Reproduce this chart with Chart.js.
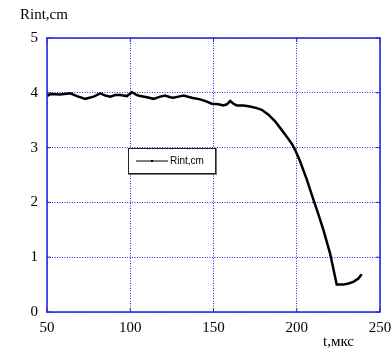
<!DOCTYPE html>
<html>
<head>
<meta charset="utf-8">
<script src="https://cdn.jsdelivr.net/npm/chart.js@4"></script>
<style>
  body { margin: 0; background: #fff; }
  #wrap { width: 392px; height: 355px; }
</style>
</head>
<body>
<div id="wrap"><canvas id="rintChart"></canvas></div>
<script>
const tValues = [50, 52, 58, 64, 68, 73, 78, 82, 85, 88, 91, 94, 98, 101, 104, 106, 110, 114, 118, 121, 124, 126, 129, 132, 137, 142, 146, 149, 153, 156, 158, 160, 162, 164, 168, 172, 176, 179, 183, 187, 190, 194, 197, 199, 202, 206, 210, 213, 216, 220, 224, 228, 231, 234, 237, 239];
const rintValues = [3.94, 3.98, 3.97, 3.99, 3.94, 3.89, 3.93, 3.99, 3.95, 3.93, 3.96, 3.96, 3.94, 4.01, 3.96, 3.94, 3.92, 3.89, 3.93, 3.95, 3.92, 3.91, 3.93, 3.95, 3.91, 3.88, 3.84, 3.80, 3.79, 3.77, 3.79, 3.85, 3.80, 3.77, 3.77, 3.75, 3.72, 3.69, 3.60, 3.48, 3.36, 3.20, 3.07, 2.96, 2.75, 2.42, 2.05, 1.78, 1.50, 1.07, 0.50, 0.50, 0.52, 0.55, 0.61, 0.69];
const xTicks = [50, 100, 150, 200, 250];
const yTicks = [0, 1, 2, 3, 4, 5];
const seriesName = 'Rint,cm';
const xTitle = 't,мкс';
const yTitle = 'Rint,cm';

const blue = '#2323e6';
const serif = '"Liberation Serif", "Times New Roman", serif';

const framePlugin = {
  id: 'frame',
  afterDraw(chart) {
    const { ctx, chartArea: a } = chart;
    ctx.save();
    ctx.strokeStyle = blue;
    ctx.lineWidth = 1.5;
    ctx.strokeRect(a.left, a.top, a.right - a.left, a.bottom - a.top);
    // inward tick marks
    ctx.lineWidth = 1;
    const xs = chart.scales.x, ys = chart.scales.y;
    xTicks.forEach(v => {
      const px = xs.getPixelForValue(v);
      ctx.beginPath();
      ctx.moveTo(px, a.bottom); ctx.lineTo(px, a.bottom - 4);
      ctx.moveTo(px, a.top); ctx.lineTo(px, a.top + 4);
      ctx.stroke();
    });
    yTicks.forEach(v => {
      const py = ys.getPixelForValue(v);
      ctx.beginPath();
      ctx.moveTo(a.left, py); ctx.lineTo(a.left + 4, py);
      ctx.moveTo(a.right, py); ctx.lineTo(a.right - 4, py);
      ctx.stroke();
    });
    // axis titles
    ctx.fillStyle = '#000';
    ctx.font = '15px ' + serif;
    ctx.textBaseline = 'alphabetic';
    ctx.textAlign = 'left';
    ctx.fillText(yTitle, 20, 19);
    ctx.fillText(xTitle, 323, 346);
    // legend box
    const bx = 128, by = 148, bw = 88, bh = 26;
    ctx.fillStyle = '#fff';
    ctx.fillRect(bx, by, bw, bh);
    ctx.strokeStyle = '#777';
    ctx.lineWidth = 2;
    ctx.beginPath();
    ctx.moveTo(bx, by + bh); ctx.lineTo(bx + bw, by + bh); ctx.lineTo(bx + bw, by);
    ctx.stroke();
    ctx.strokeStyle = '#222';
    ctx.lineWidth = 1;
    ctx.strokeRect(bx + 0.5, by + 0.5, bw - 1, bh - 1);
    ctx.strokeStyle = '#555';
    ctx.lineWidth = 1.5;
    ctx.beginPath();
    ctx.moveTo(bx + 8, by + 13); ctx.lineTo(bx + 40, by + 13);
    ctx.stroke();
    ctx.fillStyle = '#000';
    ctx.fillRect(bx + 23, by + 12, 2, 2);
    ctx.font = '10px "Liberation Sans", Arial, sans-serif';
    ctx.textBaseline = 'middle';
    ctx.fillText(seriesName, bx + 42, by + 13);
    ctx.restore();
  }
};

const ctx = document.getElementById('rintChart');
new Chart(ctx, {
  type: 'line',
  data: {
    datasets: [{
      label: seriesName,
      data: tValues.map((t, i) => ({ x: t, y: rintValues[i] })),
      borderColor: '#000',
      borderWidth: 2.5,
      pointRadius: 0,
      tension: 0,
      fill: false
    }]
  },
  options: {
    responsive: true,
    maintainAspectRatio: false,
    animation: false,
    layout: { padding: { top: 38, right: 0, left: 0, bottom: 0 } },
    scales: {
      x: {
        type: 'linear',
        min: 50, max: 250,
        afterBuildTicks: s => { s.ticks = xTicks.map(v => ({ value: v })); },
        afterFit: s => { s.height = 43; s.paddingRight = 12; s.paddingLeft = 0; },
        grid: { color: blue, drawTicks: false, lineWidth: 1 },
        border: { display: false, dash: [1, 1.5] },
        ticks: { color: '#000', padding: 7, font: { family: serif, size: 15 }, maxRotation: 0 }
      },
      y: {
        min: 0, max: 5,
        afterBuildTicks: s => { s.ticks = yTicks.map(v => ({ value: v })); },
        afterFit: s => { s.width = 47; s.paddingTop = 0; s.paddingBottom = 0; },
        grid: { color: blue, drawTicks: false, lineWidth: 1 },
        border: { display: false, dash: [1, 1.5] },
        ticks: { color: '#000', padding: 9, font: { family: serif, size: 15 } }
      }
    },
    plugins: {
      legend: { display: false },
      tooltip: { enabled: false }
    }
  },
  plugins: [framePlugin]
});
</script>
</body>
</html>
